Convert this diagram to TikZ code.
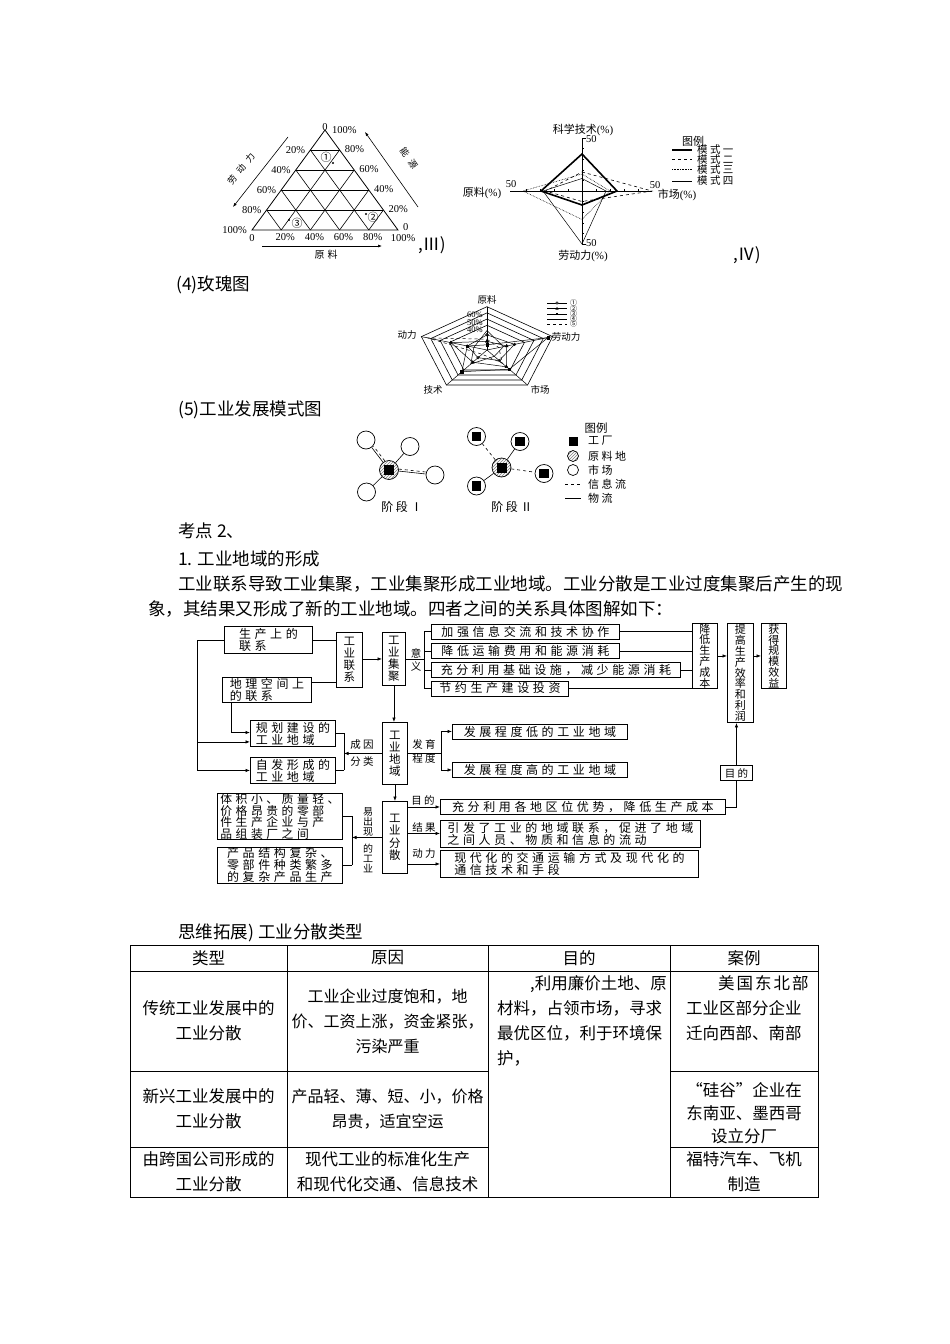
\documentclass[tikz,border=0pt]{standalone}
\usepackage{fontspec}
\setmainfont{Noto Sans CJK SC}
\newfontfamily\latin{Liberation Serif}
\newfontfamily\spaced[LetterSpace=30]{Noto Sans CJK SC}
\newfontfamily\tight[LetterSpace=22]{Noto Sans CJK SC}
\newfontfamily\wide[LetterSpace=60]{Noto Sans CJK SC}
\usetikzlibrary{arrows.meta,patterns,calc,plotmarks}

\begin{document}
\begin{tikzpicture}[x=1pt,y=-1pt,
  body/.style={anchor=west,inner sep=0pt,font=\fontsize{17.5}{20}\selectfont},
  num/.style={inner sep=0pt,font=\latin\fontsize{10.5}{11}\selectfont},
  small/.style={inner sep=0pt,align=center,font=\fontsize{10}{11}\selectfont},
  hbox/.style={draw,line width=0.9pt,anchor=north west,inner sep=0pt,align=left,
    font=\spaced\fontsize{12}{12}\selectfont},
  vbox/.style={draw,line width=0.9pt,anchor=north west,inner sep=0pt,align=center,
    font=\fontsize{11.5}{12}\selectfont},
  tag/.style={inner sep=0pt,align=center,font=\tight\fontsize{10.5}{13.5}\selectfont},
  link/.style={line width=0.7pt},
  arr/.style={line width=0.7pt,-{Latex[length=4.5pt,width=3.5pt]}},
  mkt/.style={circle,draw,fill=white,line width=0.7pt,minimum size=18pt,inner sep=0pt},
  raw/.style={circle,draw,line width=0.7pt,preaction={fill=white},pattern=north east lines,
    pattern color=gray,minimum size=19pt,inner sep=0pt},
  fac/.style={fill=black,minimum size=10pt,inner sep=0pt},
  cell/.style={inner sep=0pt,align=center,font=\fontsize{16.5}{25}\selectfont}]
\useasboundingbox (0,0) rectangle (950,1344);
\fill[white] (0,0) rectangle (950,1344);

% ternary diagram
\coordinate (ta) at (325,130);
\coordinate (tl) at (252,230);
\coordinate (tr) at (398,230);
\draw[line width=0.8pt] (ta) -- (tl) -- (tr) -- cycle;
\foreach \u in {0.2,0.4,0.6,0.8}{
  \draw[line width=0.6pt] ($(ta)!\u!(tl)$) -- ($(ta)!\u!(tr)$);
  \draw[line width=0.6pt] ($(tl)!\u!(tr)$) -- ($(ta)!\u!(tr)$);
  \draw[line width=0.6pt] ($(tl)!\u!(tr)$) -- ($(tl)!\u!(ta)$);
}
\foreach \i/\p/\q [evaluate=\i as \u using \i/5] in {1/20\%/80\%,2/40\%/60\%,3/60\%/40\%,4/80\%/20\%}{
  \node[num,anchor=east] (lp\i) at ($(ta)!\u!(tl)+(-5,0)$) {\p};
  \node[num,anchor=west] (rp\i) at ($(ta)!\u!(tr)+(5,-1)$) {\q};
  \node[num,anchor=north] (bp\i) at ($(tl)!\u!(tr)+(4,3)$) {\p};
}
\node[num,anchor=east] (lp5) at ($(tl)+(-5,0)$) {100\%};
\node[num,anchor=west] (rp5) at ($(tr)+(5,-3)$) {0};
\node[num,anchor=north] (bp5) at ($(tr)+(5,4)$) {100\%};
\node[num,anchor=north] (bp0) at ($(tl)+(0,4)$) {0};
\node[num,anchor=south] (ap0) at ($(ta)+(0,1)$) {0};
\node[num,anchor=west] (ap1) at ($(ta)+(7,0)$) {100\%};
\draw[line width=0.6pt,-{Latex[length=4pt,width=3pt]}] (288,137) -- (233,207);
\draw[line width=0.6pt,-{Latex[length=4pt,width=3pt]}] (418,207) -- (365,132);
\draw[line width=0.6pt,-{Latex[length=4pt,width=3pt]}] (262,246) -- (382,246);
\node[inner sep=0pt,rotate=52,font=\wide\fontsize{9}{10}\selectfont] (ldl) at (241,169) {劳动力};
\node[inner sep=0pt,rotate=-55,font=\wide\fontsize{9}{10}\selectfont] (lny) at (409,158) {能源};
\node[inner sep=0pt,font=\spaced\fontsize{10}{11}\selectfont] (lyl) at (326,255) {原料};
\node[small,font=\fontsize{11}{12}\selectfont] (c1) at (326,157) {①};
\node[small,font=\fontsize{11}{12}\selectfont] (c2) at (373,217) {②};
\node[small,font=\fontsize{11}{12}\selectfont] (c3) at (297,223) {③};
\fill (333,163) circle (1.2pt) (366,214) circle (1.2pt) (289,220) circle (1.2pt);
\node[body,font=\fontsize{17}{20}\selectfont] (fig3) at (418,245) {,Ⅲ)};

% radar chart
\draw[line width=0.8pt] (510,191) -- (652,191);
\draw[line width=0.8pt] (582,138) -- (582,244);
\draw[line width=0.8pt] (582,138) -- (586,138) (582,244) -- (586,244);
\foreach \k in {1,...,4}{
  \draw[line width=0.5pt] (582-14*\k,189) -- (582-14*\k,191) (582+14*\k,189) -- (582+14*\k,191);
  \draw[line width=0.5pt] (582,191-10.6*\k) -- (584,191-10.6*\k) (582,191+10.6*\k) -- (584,191+10.6*\k);
}
\draw[line width=1.6pt] (582,154) -- (617,191) -- (582,205) -- (541,191) -- cycle;
\draw[line width=0.6pt,dashed] (582,172) -- (652,191) -- (582,201.5) -- (545.5,191) -- cycle;
\draw[line width=0.6pt,densely dotted] (582,174) -- (610,191) -- (582,219.5) -- (523,191) -- cycle;
\draw[line width=0.5pt] (582,178.5) -- (606,191) -- (582,244) -- (543,191) -- cycle;
\node[small,font=\fontsize{11}{12}\selectfont] (rkx) at (583,130) {科学技术\latin(\%)};
\node[num,anchor=west] (r50t) at (586,139) {50};
\node[small,font=\fontsize{11}{12}\selectfont] (ryl) at (482,193) {原料\latin(\%)};
\node[num] (r50l) at (511,184) {50};
\node[num] (r50r) at (655,185) {50};
\node[small,font=\fontsize{11}{12}\selectfont] (rsc) at (677,195) {市场\latin(\%)};
\node[small,font=\fontsize{11}{12}\selectfont] (rld) at (583,256) {劳动力\latin(\%)};
\node[num,anchor=west] (r50b) at (586,243) {50};
\node[small,font=\fontsize{11}{12}\selectfont] (rtl) at (693,141) {图例};
\draw[line width=1.6pt] (672,150) -- (692,150);
\draw[line width=0.6pt,dashed] (672,159.5) -- (692,159.5);
\draw[line width=0.6pt,densely dotted] (672,169.5) -- (692,169.5);
\draw[line width=0.5pt] (672,181) -- (692,181);
\foreach \y/\t [count=\n] in {150/一,159.5/二,169.5/三,181/四}
  \node[inner sep=0pt,anchor=west,font=\tight\fontsize{10.5}{11}\selectfont] (rm\n) at (697,\y) {模式\t};
\node[body,font=\fontsize{17}{20}\selectfont] (fig4) at (733,255) {,Ⅳ)};

% rose chart
\node[body] (t4) at (176,285) {(4)玫瑰图};
\coordinate (rosec) at (487,350);
\begin{scope}[shift={(rosec)},x=69pt,y=43.3pt]
  \foreach \f in {1,0.857,0.714,0.571}
    \draw[line width=0.6pt] (90:\f) -- (18:\f) -- (-54:\f) -- (-126:\f) -- (162:\f) -- cycle;
  \foreach \a in {90,18,-54,-126,162}
    \draw[line width=0.5pt] (0,0) -- (\a:1);
  \draw[line width=0.5pt] plot[mark=o,mark size=1.3pt] coordinates {(90:0.35) (18:0.42) (-54:0.3) (-126:0.22) (162:0.3) (90:0.35)};
  \draw[line width=0.5pt] plot[mark=triangle*,mark size=1.6pt] coordinates {(90:0.2) (18:0.3) (-54:0.48) (-126:0.35) (162:0.55) (90:0.2)};
  \draw[line width=0.5pt] plot[mark=square*,mark size=1.2pt] coordinates {(90:0.12) (18:0.93) (-54:0.55) (-126:0.62) (162:0.3) (90:0.12)};
  \draw[line width=0.5pt] (90:0.45) -- (18:0.25) -- (-54:0.18) -- (-126:0.4) -- (162:0.2) -- cycle;
  \draw[line width=0.5pt,dashed] (90:0.25) -- (18:0.18) -- (-54:0.38) -- (-126:0.12) -- (162:0.9) -- cycle;
\end{scope}
\foreach \y/\t [count=\n] in {315/60,322.5/50,330/40}
  \node[inner sep=0pt,anchor=east,font=\latin\fontsize{8.5}{9}\selectfont] (rp\n) at (483,\y) {\t\%};
\node[small,font=\fontsize{9.5}{10}\selectfont] (ryl2) at (487,300) {原料};
\node[small,font=\fontsize{9.5}{10}\selectfont] (rld2) at (566,337) {劳动力};
\node[small,font=\fontsize{9.5}{10}\selectfont] (rsc2) at (540,390) {市场};
\node[small,font=\fontsize{9.5}{10}\selectfont] (rjs2) at (433,390) {技术};
\node[small,font=\fontsize{9.5}{10}\selectfont] (rdl2) at (407,335) {动力};
\draw[line width=0.5pt] (547,303) -- (567,303);
\filldraw[line width=0.5pt,fill=white] (557,303) circle (1.3pt);
\draw[line width=0.5pt] (547,308.5) -- (567,308.5);
\fill (557,306.8) -- (555.4,309.6) -- (558.6,309.6) -- cycle;
\draw[line width=0.5pt] (547,314) -- (567,314);
\fill (555.8,312.8) rectangle (558.2,315.2);
\draw[line width=0.5pt] (547,319) -- (567,319);
\draw[line width=0.5pt,dashed] (547,324) -- (567,324);
\foreach \y/\t [count=\n] in {303/①,308.5/②,314/③,319/④,324/⑤}
  \node[inner sep=0pt,anchor=west,font=\fontsize{7}{8}\selectfont] (rl\n) at (570,\y) {\t};

% stage diagrams
\node[body] (t5) at (178,410) {(5)工业发展模式图};
\node[raw] (s1c) at (389,470) {};
\node[fac] (s1f) at (s1c) {};
\node[mkt] (s1a) at (366,440) {};
\node[mkt] (s1b) at (410,446.5) {};
\node[mkt] (s1d) at (435,475) {};
\node[mkt] (s1e) at (366.5,492) {};
\draw[line width=0.6pt] (s1c) -- (s1a);
\draw[line width=0.6pt,dashed,transform canvas={xshift=1.8pt,yshift=1.3pt}] (s1c) -- (s1a);
\draw[line width=0.6pt] (s1c) -- (s1b);
\draw[line width=0.6pt] (s1c) -- (s1d);
\draw[line width=0.6pt,dashed,transform canvas={yshift=2pt}] (s1c) -- (s1d);
\draw[line width=0.6pt] (s1c) -- (s1e);
\node[inner sep=0pt,font=\tight\fontsize{12}{13}\selectfont] (s1t) at (402,507) {阶段Ⅰ};
\node[raw] (s2c) at (501.5,467.5) {};
\node[fac] (s2f) at (s2c) {};
\foreach \n/\p in {a/{(476.5,436.5)},b/{(520,441.5)},d/{(544,473.5)},e/{(476.5,486)}}{
  \node[mkt] (s2\n) at \p {};
  \node[fac,minimum size=9.5pt] (s2\n f) at (s2\n) {};
}
\draw[line width=0.6pt,dashed] (s2c) -- (s2a);
\draw[line width=0.6pt] (s2c) -- (s2b);
\draw[line width=0.6pt,dashed] (s2c) -- (s2d);
\draw[line width=0.6pt] (s2c) -- (s2e);
\node[inner sep=0pt,font=\tight\fontsize{12}{13}\selectfont] (s2t) at (512,507) {阶段Ⅱ};
\node[small,font=\fontsize{11.5}{12}\selectfont] (lgt) at (596,428) {图例};
\node[fac,minimum size=9pt] (lgf) at (573,441) {};
\node[raw,minimum size=11pt] (lgr) at (573,456) {};
\node[mkt,minimum size=11pt] (lgm) at (573,470) {};
\draw[line width=0.6pt,dashed] (565,484) -- (581,484);
\draw[line width=0.6pt] (565,498) -- (581,498);
\foreach \y/\t [count=\n] in {441/工厂,456/原料地,470/市场,484/信息流,498/物流}
  \node[inner sep=0pt,anchor=west,font=\tight\fontsize{11}{12}\selectfont] (lg\n) at (588,\y) {\t};

% text
\node[body] (kd) at (178,531) {考点 2、};
\node[body] (h1) at (178,559) {1. 工业地域的形成};
\node[body] (p1) at (178,584) {工业联系导致工业集聚，工业集聚形成工业地域。工业分散是工业过度集聚后产生的现};
\node[body] (p2) at (148,609) {象，其结果又形成了新的工业地域。四者之间的关系具体图解如下：};

% flow chart
\node[hbox,minimum width=88pt,minimum height=27pt] (scx) at (224,626) {生产上的\\联系};
\node[hbox,minimum width=89pt,minimum height=25pt] (dlx) at (222,677) {地理空间上\\的联系};
\node[vbox,minimum width=26pt,minimum height=55pt] (gylx) at (336,632) {工\\业\\联\\系};
\node[vbox,minimum width=23pt,minimum height=53pt] (gyjj) at (382,632) {工\\业\\集\\聚};
\node[hbox,minimum width=188pt,minimum height=15pt] (yy1) at (431,623.5) {加强信息交流和技术协作};
\node[hbox,minimum width=188pt,minimum height=15pt] (yy2) at (431,643) {降低运输费用和能源消耗};
\node[hbox,minimum width=249pt,minimum height=15pt] (yy3) at (431,662) {充分利用基础设施，减少能源消耗};
\node[hbox,minimum width=137pt,minimum height=15pt] (yy4) at (431,680.5) {节约生产建设投资};
\node[vbox,font=\fontsize{11}{10.8}\selectfont,minimum width=25pt,minimum height=65pt] (jdcb) at (692,623) {降\\低\\生\\产\\成\\本};
\node[vbox,font=\fontsize{11}{10.8}\selectfont,minimum width=26pt,minimum height=99pt] (tgxl) at (727,623) {提\\高\\生\\产\\效\\率\\和\\利\\润};
\node[vbox,font=\fontsize{11}{10.8}\selectfont,minimum width=25pt,minimum height=65pt] (hdgm) at (761,623) {获\\得\\规\\模\\效\\益};
\node[hbox,minimum width=32pt,minimum height=15pt,font=\tight\fontsize{10.5}{12}\selectfont] (mdbox) at (720,765) {目的};
\node[vbox,minimum width=25pt,minimum height=62pt] (gydy) at (382,722) {工\\业\\地\\域};
\node[hbox,minimum width=175pt,minimum height=15pt] (fzd) at (452,723.5) {发展程度低的工业地域};
\node[hbox,minimum width=175pt,minimum height=15pt] (fzg) at (452,762) {发展程度高的工业地域};
\node[hbox,minimum width=85pt,minimum height=26pt] (ghjs) at (250,720) {规划建设的\\工业地域};
\node[hbox,minimum width=85pt,minimum height=26pt] (zfxc) at (250,757) {自发形成的\\工业地域};
\node[vbox,font=\fontsize{11.5}{12.5}\selectfont,minimum width=25pt,minimum height=72pt] (gyfs) at (382,801) {工\\业\\分\\散};
\node[hbox,minimum width=285pt,minimum height=15pt] (fs1) at (440,799) {充分利用各地区位优势，降低生产成本};
\node[hbox,minimum width=260pt,minimum height=27pt] (fs2) at (440,819.5) {引发了工业的地域联系，促进了地域\\之间人员、物质和信息的流动};
\node[hbox,minimum width=258pt,minimum height=27pt] (fs3) at (440,850) {现代化的交通运输方式及现代化的\\通信技术和手段};
\node[hbox,minimum width=125pt,minimum height=46pt,font=\spaced\fontsize{11.8}{11.5}\selectfont] (ly1) at (217,793) {体积小、质量轻、\\价格昂贵的零部\\件生产企业与产\\品组装厂之间};
\node[hbox,minimum width=125pt,minimum height=36pt] (ly2) at (217,847) {产品结构复杂、\\零部件种类繁多\\的复杂产品生产};
\node[tag] (yiyi) at (416,660) {意\\义};
\node[tag] (fycd) at (424,751.5) {发育\\程度};
\node[tag,font=\tight\fontsize{10.5}{16.5}\selectfont] (cyfl) at (362,753) {成因\\分类};
\node[tag] (lmd) at (423,800.5) {目的};
\node[tag] (ljg) at (424,827) {结果};
\node[tag] (ldl3) at (424,853.5) {动力};
\node[tag,font=\fontsize{10}{10}\selectfont] (yicx) at (368,821.5) {易\\出\\现};
\node[tag,font=\fontsize{10}{10}\selectfont] (degy) at (368,858) {的\\工\\业};
\coordinate (leftx) at (197,0);
\coordinate (jjx) at (424,0);
\coordinate (fyx) at (441,0);
\coordinate (cyx) at (344,0);
\coordinate (fsx) at (352,0);
\coordinate (dlin) at ([yshift=6pt]gylx.south west);
\draw[link] (scx.east) -- (scx.east -| gylx.west);
\draw[link] (dlin -| dlx.east) -- (dlin);
\draw[arr] (gylx.east |- gyjj.west) -- (gyjj.west);
\draw[link] (gyjj.east) -- (gyjj.east -| jjx);
\draw[link] (yy1.west -| jjx) -- (yy4.west -| jjx);
\foreach \b in {yy1,yy2,yy3,yy4}{
  \draw[link] (\b.west -| jjx) -- (\b.west);
  \draw[link] (\b.east) -- (\b.east -| jdcb.west);
}
\draw[arr] (jdcb.east) -- (jdcb.east -| tgxl.west);
\draw[arr] (tgxl.east |- hdgm.west) -- (hdgm.west);
\draw[arr] (mdbox.north) -- (mdbox.north |- tgxl.south);
\draw[link] (fs1.east) -| (mdbox.south);
\draw[arr] (gyjj.south) -- (gyjj.south |- gydy.north);
\draw[link] (gydy.east) -- (gydy.east -| fyx);
\draw[link] (fzd.west -| fyx) -- (fzg.west -| fyx);
\draw[arr] (fzd.west -| fyx) -- (fzd.west);
\draw[arr] (fzg.west -| fyx) -- (fzg.west);
\draw[arr] (gydy.west) -- (gydy.west -| cyx);
\draw[link] (ghjs.east -| cyx) -- (zfxc.east -| cyx);
\draw[link] (ghjs.east -| cyx) -- (ghjs.east);
\draw[link] (zfxc.east -| cyx) -- (zfxc.east);
\draw[link] (scx.west) -- (scx.west -| leftx) -- (zfxc.west -| leftx);
\coordinate (ghin1) at ([yshift=-12.5pt]ghjs.north west);
\coordinate (ghin2) at ([yshift=5pt]ghjs.south west);
\draw[arr] ([xshift=9.5pt]dlx.south west) |- (ghin1);
\draw[arr] (ghin2 -| leftx) -- (ghin2);
\draw[arr] (zfxc.west -| leftx) -- (zfxc.west);
\draw[arr] (gydy.south) -- (gydy.south |- gyfs.north);
\draw[arr] (gyfs.east |- fs1.west) -- (fs1.west);
\draw[arr] (gyfs.east |- fs2.west) -- (fs2.west);
\draw[arr] (gyfs.east |- fs3.west) -- (fs3.west);
\draw[arr] (gyfs.west) -- (gyfs.west -| fsx);
\draw[link] (ly1.east -| fsx) -- (ly2.east -| fsx);
\draw[link] (ly1.east -| fsx) -- (ly1.east);
\draw[link] (ly2.east -| fsx) -- (ly2.east);

% table
\node[body] (t6) at (178,933) {思维拓展) 工业分散类型};
\draw[line width=0.8pt] (130,945) rectangle (818,1197);
\foreach \x in {287,488,670} \draw[line width=0.6pt] (\x,945) -- (\x,1197);
\draw[line width=0.6pt] (130,971) -- (818,971);
\draw[line width=0.6pt] (130,1071) -- (488,1071) (670,1071) -- (818,1071);
\draw[line width=0.6pt] (130,1147) -- (488,1147) (670,1147) -- (818,1147);
\node[cell] (th1) at (208.5,958) {类型};
\node[cell] (th2) at (387.5,958) {原因};
\node[cell] (th3) at (579,958) {目的};
\node[cell] (th4) at (744,958) {案例};
\node[cell] (r1a) at (208.5,1021) {传统工业发展中的\\工业分散};
\node[cell,font=\fontsize{16}{25}\selectfont] (r1b) at (387.5,1021) {工业企业过度饱和，地\\价、工资上涨，资金紧张，\\污染严重};
\node[cell,anchor=north west,align=left] (r1c) at (497,975) {\hspace{33pt},利用廉价土地、原\\材料，占领市场，寻求\\最优区位，利于环境保\\护，};
\node[cell,anchor=north west,align=left] (r1d) at (686,975) {\hspace{32pt}美\hspace{2pt}国\hspace{2pt}东\hspace{2pt}北\hspace{2pt}部\\工业区部分企业\\迁向西部、南部};
\node[cell] (r2a) at (208.5,1109) {新兴工业发展中的\\工业分散};
\node[cell,font=\fontsize{16}{25}\selectfont] (r2b) at (387.5,1109) {产品轻、薄、短、小，价格\\昂贵，适宜空运};
\node[cell,font=\fontsize{16.5}{23}\selectfont] (r2d) at (744,1113) {“硅谷”企业在\\东南亚、墨西哥\\设立分厂};
\node[cell] (r3a) at (208.5,1172) {由跨国公司形成的\\工业分散};
\node[cell] (r3b) at (387.5,1172) {现代工业的标准化生产\\和现代化交通、信息技术};
\node[cell] (r3d) at (744,1172) {福特汽车、飞机\\制造};
\end{tikzpicture}
\end{document}
